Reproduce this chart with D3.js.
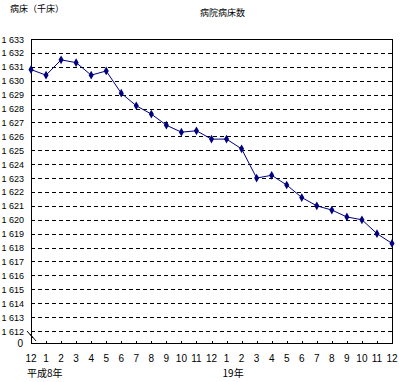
<!DOCTYPE html>
<html>
<head>
<meta charset="utf-8">
<script src="https://cdn.jsdelivr.net/npm/d3@7"></script>
<style>
  body { margin: 0; background: #fff; }
  text { font-family: "Liberation Sans", Arial, sans-serif; font-size: 10px; fill: #000; }
  .jp { font-family: "Noto Sans CJK JP", sans-serif; font-size: 9px; }
</style>
</head>
<body>
<svg id="chart"></svg>
<script>
// month labels, Dec .. Dec .. Dec
var months = ["12","1","2","3","4","5","6","7","8","9","10","11","12","1","2","3","4","5","6","7","8","9","10","11","12"];
// beds, thousands
var beds = [1630.8, 1630.4, 1631.5, 1631.3, 1630.4, 1630.7, 1629.1, 1628.2, 1627.6, 1626.8, 1626.3, 1626.4,
            1625.8, 1625.8, 1625.1, 1623.0, 1623.2, 1622.5, 1621.6, 1621.0, 1620.7, 1620.2, 1620.0, 1619.0, 1618.3];
var yTicks = d3.range(1612, 1634);
var yearLabels = [{ i: 0, text: "平成8年" }, { i: 13, text: "19年" }];

var width = 417, height = 382;
var svg = d3.select("#chart").attr("width", width).attr("height", height);

var plotL = 31, plotR = 392, plotT = 39, plotB = 343;
var x = d3.scaleLinear().domain([0, months.length - 1]).range([plotL, plotR]);
var y = d3.scaleLinear().domain([1612, 1633]).range([331, plotT]);

// dashed grid
svg.append("g").selectAll("line").data(yTicks.filter(function(d) { return d < 1633; }))
  .enter().append("line")
  .attr("x1", plotL).attr("x2", plotR)
  .attr("y1", function(d) { return Math.round(y(d)) + 0.5; })
  .attr("y2", function(d) { return Math.round(y(d)) + 0.5; })
  .attr("stroke", "#000").attr("stroke-dasharray", "4,3");

// frame
svg.append("rect").attr("x", plotL + 0.5).attr("y", plotT + 0.5)
  .attr("width", plotR - plotL).attr("height", plotB - plotT)
  .attr("fill", "none").attr("stroke", "#000");

// y labels
var fmt = function(d) { var s = String(d); return s.slice(0, 1) + " " + s.slice(1); };
svg.append("g").selectAll("text").data(yTicks).enter().append("text")
  .attr("x", 24).attr("y", function(d) { return y(d) + 3.5; })
  .attr("text-anchor", "end").style("font-size", "9px").text(fmt);
svg.append("text").attr("x", 23).attr("y", plotB + 4).attr("text-anchor", "end").text("0");

// axis break
[0, 3].forEach(function(o) {
  svg.append("line").attr("x1", 27 + o).attr("y1", 331 + o).attr("x2", 33 + o).attr("y2", 338 + o)
    .attr("stroke", "#000");
});

// x ticks
svg.append("g").selectAll("line").data(months).enter().append("line")
  .attr("x1", function(d, i) { return Math.round(x(i)) + 0.5; })
  .attr("x2", function(d, i) { return Math.round(x(i)) + 0.5; })
  .attr("y1", plotB).attr("y2", plotB - 2).attr("stroke", "#000");

svg.append("g").selectAll("text").data(months).enter().append("text")
  .attr("x", function(d, i) { return x(i); }).attr("y", 362)
  .attr("text-anchor", "middle").text(function(d) { return d; });

svg.append("g").selectAll("text").data(yearLabels).enter().append("text")
  .attr("class", "jp").style("font-size", "10px")
  .attr("x", function(d) { return x(d.i) - 4; }).attr("y", 377)
  .text(function(d) { return d.text; });

// line + markers
var line = d3.line().x(function(d, i) { return x(i); }).y(function(d) { return y(d); });
svg.append("path").datum(beds).attr("d", line)
  .attr("fill", "none").attr("stroke", "#000080").attr("stroke-width", 1);
svg.append("g").selectAll("path").data(beds).enter().append("path")
  .attr("d", d3.symbol().type(d3.symbolDiamond).size(22))
  .attr("transform", function(d, i) { return "translate(" + x(i) + "," + y(d) + ")"; })
  .attr("fill", "#000080");

// titles
svg.append("text").attr("class", "jp").attr("x", 10).attr("y", 12).text("病床（千床）");
svg.append("text").attr("class", "jp").attr("x", 200).attr("y", 16).text("病院病床数");
</script>
</body>
</html>
